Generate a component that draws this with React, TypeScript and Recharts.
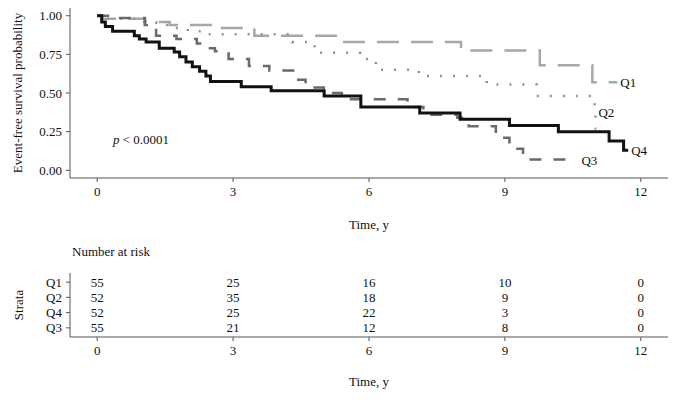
import React from 'react';
import { LineChart, Line, XAxis, YAxis, LabelList, ScatterChart, Scatter } from 'recharts';

// Kaplan-Meier steps (time in years, survival probability)
const q1Time = [0, 0.12, 1.06, 1.6, 2.66, 3.47, 5.42, 8.03, 9.77, 10.93, 11.48];
const q1Surv = [1, 0.98, 0.96, 0.94, 0.92, 0.87, 0.83, 0.775, 0.68, 0.57, 0.57];

const q2Time = [0, 0.15, 1.0, 1.3, 1.6, 2.0, 2.3, 4.3, 4.8, 5.8, 6.0, 6.15, 7.1, 8.6, 9.7, 10.98, 11.0, 11.02];
const q2Surv = [1, 0.98, 0.96, 0.94, 0.92, 0.9, 0.88, 0.83, 0.76, 0.72, 0.7, 0.65, 0.61, 0.555, 0.48, 0.37, 0.27, 0.27];

const q3Time = [0, 0.3, 1.05, 1.3, 1.75, 2.2, 2.4, 2.6, 2.9, 3.35, 3.8, 4.4, 4.6, 5.0, 5.4, 6.85, 7.2, 7.95, 8.2, 8.8, 9.1, 9.4, 10.6];
const q3Surv = [1, 0.985, 0.94, 0.87, 0.85, 0.82, 0.79, 0.77, 0.72, 0.675, 0.645, 0.585, 0.535, 0.5, 0.46, 0.41, 0.36, 0.34, 0.285, 0.21, 0.14, 0.07, 0.07];

const q4Time = [0, 0.1, 0.18, 0.34, 0.82, 0.93, 1.08, 1.37, 1.7, 1.82, 1.96, 2.1, 2.26, 2.4, 2.5, 3.18, 3.84, 5.01, 5.82, 7.12, 8.01, 9.1, 10.18, 11.3, 11.62, 11.72];
const q4Surv = [1, 0.96, 0.93, 0.9, 0.87, 0.85, 0.83, 0.79, 0.765, 0.735, 0.7, 0.67, 0.64, 0.61, 0.575, 0.54, 0.515, 0.48, 0.41, 0.37, 0.33, 0.29, 0.25, 0.19, 0.13, 0.13];

const timeTicks = [0, 3, 6, 9, 12];
const survTicks = [0, 0.25, 0.5, 0.75, 1];

// number at risk table, rows top to bottom
const strata = ['Q1', 'Q2', 'Q4', 'Q3'];
const riskQ1 = [55, 25, 16, 10, 0];
const riskQ2 = [52, 35, 18, 9, 0];
const riskQ4 = [52, 25, 22, 3, 0];
const riskQ3 = [55, 21, 12, 8, 0];

const toPoints = (t: number[], s: number[]) => t.map((v, i) => ({ t: v, s: s[i] }));

const font = '"Liberation Serif", "Times New Roman", serif';
const axisColor = '#555';
const tickStyle = { fontSize: 13, fill: '#111', fontFamily: font };

const endLabel = (name: string, len: number, dx: number, dy: number) => (props: any) => {
  if (props.index !== len - 1) return null;
  return (
    <text x={props.x + dx} y={props.y + dy} dominantBaseline="central" fontSize={13} fontFamily={font} fill="#111">
      {name}
    </text>
  );
};

const series = [
  { name: 'Q1', time: q1Time, surv: q1Surv, color: '#a1aaaa', width: 2.5, dash: '22 12', dx: 3, dy: 0 },
  { name: 'Q2', time: q2Time, surv: q2Surv, color: '#8b9393', width: 2.5, dash: '2 11', dx: 2, dy: -16 },
  { name: 'Q3', time: q3Time, surv: q3Surv, color: '#646c6c', width: 2.5, dash: '12 12', dx: 4, dy: 1 },
  { name: 'Q4', time: q4Time, surv: q4Surv, color: '#111111', width: 3, dash: undefined, dx: 3, dy: 0 },
];

const riskRows = [riskQ1, riskQ2, riskQ4, riskQ3];
const riskData = riskRows.map((row, r) =>
  row.map((n, i) => ({ t: timeTicks[i], row: strata.length - r, n }))
);

const RiskText = (props: any) => (
  <text x={props.cx} y={props.cy} textAnchor="middle" dominantBaseline="central" fontSize={13} fontFamily={font} fill="#111">
    {props.payload.n}
  </text>
);

export default function App() {
  return (
    <div style={{ position: 'absolute', left: 0, top: 0, width: 677, height: 405, background: '#fff' }}>
      <LineChart width={677} height={240} margin={{ top: 8, right: 9, left: 10, bottom: 8 }}>
        <XAxis
          dataKey="t"
          type="number"
          domain={[-0.6, 12.6]}
          ticks={timeTicks}
          allowDataOverflow
          tick={tickStyle}
          tickSize={4}
          tickMargin={5}
          height={54}
          stroke={axisColor}
          label={{ value: 'Time, y', position: 'insideBottom', offset: 3, style: { fontSize: 13, fontFamily: font, fill: '#111' } }}
        />
        <YAxis
          type="number"
          domain={[-0.05, 1.05]}
          ticks={survTicks}
          interval={0}
          allowDataOverflow
          tickFormatter={(v: number) => v.toFixed(2)}
          tick={tickStyle}
          tickSize={4}
          tickMargin={4}
          width={60}
          stroke={axisColor}
          label={{
            value: 'Event-free survival probability',
            angle: -90,
            position: 'insideLeft',
            offset: 7,
            style: { fontSize: 13, fontFamily: font, fill: '#111', textAnchor: 'middle' },
          }}
        />
        {series.map((s) => (
          <Line
            key={s.name}
            data={toPoints(s.time, s.surv)}
            dataKey="s"
            type="stepAfter"
            stroke={s.color}
            strokeWidth={s.width}
            strokeDasharray={s.dash}
            dot={false}
            activeDot={false}
            isAnimationActive={false}
          >
            <LabelList dataKey="s" content={endLabel(s.name, s.time.length, s.dx, s.dy)} />
          </Line>
        ))}
      </LineChart>
      <div style={{ position: 'absolute', left: 113, top: 132, fontSize: 13, fontFamily: font, color: '#111' }}>
        <i>p</i> &lt; 0.0001
      </div>
      <div style={{ position: 'absolute', left: 72, top: 244, fontSize: 13, fontFamily: font, color: '#111' }}>
        Number at risk
      </div>
      <div style={{ position: 'absolute', left: 0, top: 240 }}>
        <ScatterChart width={677} height={165} margin={{ top: 33, right: 9, left: 10, bottom: 13 }}>
          <XAxis
            dataKey="t"
            type="number"
            domain={[-0.6, 12.6]}
            ticks={timeTicks}
            allowDataOverflow
            tick={tickStyle}
            tickSize={4}
            tickMargin={5}
            height={55}
            stroke={axisColor}
            label={{ value: 'Time, y', position: 'insideBottom', offset: 6, style: { fontSize: 13, fontFamily: font, fill: '#111' } }}
          />
          <YAxis
            dataKey="row"
            type="number"
            domain={[0.4, 4.6]}
            ticks={[1, 2, 3, 4]}
            interval={0}
            tickFormatter={(v: number) => strata[strata.length - v]}
            tick={tickStyle}
            tickSize={4}
            tickMargin={4}
            width={60}
            stroke={axisColor}
            label={{
              value: 'Strata',
              angle: -90,
              position: 'insideLeft',
              offset: 8,
              style: { fontSize: 13, fontFamily: font, fill: '#111', textAnchor: 'middle' },
            }}
          />
          {riskData.map((d, i) => (
            <Scatter key={strata[i]} data={d} shape={RiskText} isAnimationActive={false} />
          ))}
        </ScatterChart>
      </div>
    </div>
  );
}
